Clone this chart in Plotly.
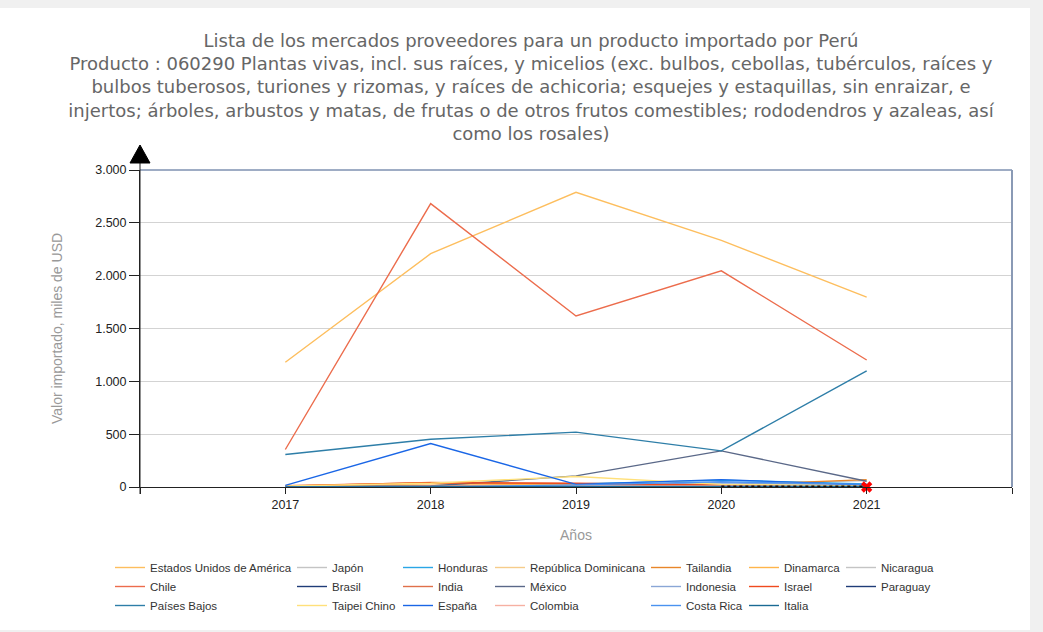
import plotly.graph_objects as go

years = [2017, 2018, 2019, 2020, 2021]

countries = [
    "Estados Unidos de América", "Japón", "Honduras", "República Dominicana", "Tailandia", "Dinamarca", "Nicaragua",
    "Chile", "Brasil", "India", "México", "Indonesia", "Israel", "Paraguay",
    "Países Bajos", "Taipei Chino", "España", "Colombia", "Costa Rica", "Italia",
]

estados_unidos = [1180, 2208, 2789, 2334, 1797]
japon = [0, 8, 12, 20, 60]
honduras = [0, 0, 30, 65, 30]
rep_dominicana = [5, 15, 20, 10, 5]
tailandia = [8, 42, 32, 15, 70]
dinamarca = [10, 30, 20, 10, 5]
nicaragua = [0, 0, 5, 10, 20]
chile = [355, 2682, 1619, 2046, 1202]
brasil = [0, 0, 5, 5, 10]
india = [2, 10, 8, 12, 15]
mexico = [5, 10, 105, 342, 55]
indonesia = [0, 5, 10, 40, 15]
israel = [12, 40, 35, 20, 0]
paraguay = [None, None, None, 0, 0]
paises_bajos = [307, 452, 519, 342, 1100]
taipei_chino = [10, 35, 100, 25, 10]
espana = [15, 412, 25, 70, 20]
colombia = [0, 5, 10, 10, 5]
costa_rica = [0, 0, 20, 50, 25]
italia = [0, 2, 5, 10, 5]

series_values = [
    estados_unidos, japon, honduras, rep_dominicana, tailandia, dinamarca, nicaragua,
    chile, brasil, india, mexico, indonesia, israel, paraguay,
    paises_bajos, taipei_chino, espana, colombia, costa_rica, italia,
]

colors = [
    "#FDBE5E", "#C4C4C4", "#2AA6E6", "#F6CC8A", "#E8862A", "#FFB54A", "#C4C4C4",
    "#EC6C4C", "#1F3C78", "#E0704A", "#5A6888", "#8AA6D6", "#F04A1E", "#1F3C78",
    "#2E7EA8", "#FFE07A", "#1A66E6", "#F6B0A2", "#4A92F0", "#1A6A94",
]

x_tickvals = [2016, 2017, 2018, 2019, 2020, 2021, 2022]
x_ticktext = ["", "2017", "2018", "2019", "2020", "2021", ""]

marker_year = [2021]
marker_value = [0]

title_text = (
    "Lista de los mercados proveedores para un producto importado por Perú<br>"
    "Producto : 060290 Plantas vivas, incl. sus raíces, y micelios (exc. bulbos, cebollas, tubérculos, raíces y<br>"
    "bulbos tuberosos, turiones y rizomas, y raíces de achicoria; esquejes y estaquillas, sin enraizar, e<br>"
    "injertos; árboles, arbustos y matas, de frutas o de otros frutos comestibles; rododendros y azaleas, así<br>"
    "como los rosales)"
)

W, H = 1043, 632
L, R, T, B = 140, 1012, 170, 487
FONT = "Liberation Sans, Arial, sans-serif"

def px_x(p):
    return (p - L) / (R - L)

def px_y(p):
    return (B - p) / (B - T)

fig = go.Figure()

legend_names = ["legend"] + [f"legend{i}" for i in range(2, 8)]

for i, (name, vals, col) in enumerate(zip(countries, series_values, colors)):
    fig.add_trace(go.Scatter(
        x=years, y=vals, name=name, mode="lines",
        line=dict(color=col, width=1.4),
        legend=legend_names[i % 7],
        legendrank=i // 7 + 1,
    ))

# dotted zero segment (Paraguay) and red marker
fig.add_trace(go.Scatter(
    x=years, y=paraguay, mode="lines", showlegend=False,
    line=dict(color="#111111", width=3, dash="dot"),
))
fig.add_trace(go.Scatter(
    x=marker_year, y=marker_value, mode="markers", showlegend=False,
    marker=dict(symbol="x", color="#FF0000", size=10, line=dict(width=0)),
    cliponaxis=False,
))

legend_text_x = [150, 332, 438, 530, 686, 784, 881]
layout_legends = {}
for j, ln in enumerate(legend_names):
    layout_legends[ln] = dict(
        x=px_x(legend_text_x[j] - 40), y=px_y(553), xanchor="left", yanchor="top",
        orientation="v", bgcolor="rgba(0,0,0,0)", borderwidth=0,
        font=dict(family=FONT, size=11.5, color="#333333"),
        tracegroupgap=0, itemwidth=30,
    )

shapes = [
    # white card on gray page
    dict(type="rect", xref="paper", yref="paper", layer="below",
         x0=px_x(-2), x1=px_x(1030), y0=px_y(630), y1=px_y(8),
         fillcolor="white", line=dict(width=0)),
    # top frame line
    dict(type="line", xref="paper", yref="paper", x0=0, x1=1, y0=1, y1=1,
         line=dict(color="#3E5A8A", width=1)),
    # right frame line
    dict(type="line", xref="paper", yref="paper", x0=1, x1=1, y0=0, y1=1,
         line=dict(color="#8A9AB5", width=2)),
    # y-axis extension to arrow
    dict(type="line", xref="paper", yref="paper", x0=0, x1=0, y0=px_y(494), y1=px_y(160),
         line=dict(color="#222222", width=1)),
    # arrow head
    dict(type="path", xref="paper", yref="paper", xsizemode="pixel", ysizemode="pixel",
         xanchor=0, yanchor=px_y(163), path="M -10,0 L 10,0 L 0,18 Z",
         fillcolor="black", line=dict(color="black", width=1)),
]

fig.update_layout(
    width=W, height=H,
    margin=dict(l=L, r=W - R, t=T, b=H - B),
    paper_bgcolor="#F0F0F0",
    plot_bgcolor="white",
    separators=",.",
    hovermode=False,
    title=dict(text=title_text, x=531 / W, xanchor="center", y=1 - 46.6 / H, yanchor="top",
               font=dict(family="DejaVu Sans, sans-serif", size=18, color="#666666")),
    xaxis=dict(range=[2016, 2022], tickvals=x_tickvals, ticktext=x_ticktext,
               showgrid=False, zeroline=False, showline=True, linecolor="#222222", linewidth=1,
               ticks="outside", ticklen=6, tickcolor="#222222",
               tickfont=dict(family=FONT, size=12.5, color="#222222"),
               title=dict(text="Años", standoff=19,
                          font=dict(family=FONT, size=14, color="#999999"))),
    yaxis=dict(range=[0, 3000], dtick=500, tickformat=",d",
               showgrid=True, gridcolor="#D3D3D3", gridwidth=1, zeroline=False,
               showline=True, linecolor="#222222", linewidth=1,
               ticks="outside", ticklen=10, tickcolor="#222222",
               tickfont=dict(family=FONT, size=12.5, color="#222222"),
               title=dict(text="Valor importado, miles de USD", standoff=29,
                          font=dict(family=FONT, size=14, color="#999999"))),
    shapes=shapes,
    showlegend=True,
    **layout_legends,
)

fig.write_html("out.html", config={"displayModeBar": False},
               post_script="document.body.style.margin='0';")
